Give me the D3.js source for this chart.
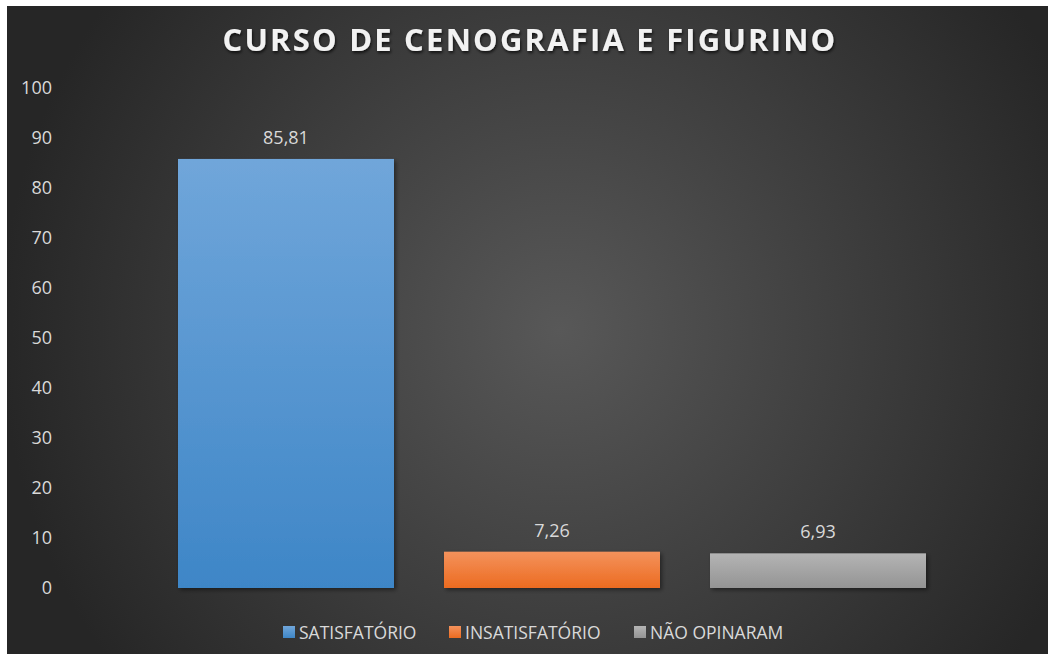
<!DOCTYPE html>
<html>
<head>
<meta charset="utf-8">
<script src="https://cdn.jsdelivr.net/npm/d3@7"></script>
<style>
  body { margin: 0; background: #fff; }
  svg { display: block; }
</style>
</head>
<body>
<svg id="chart" width="1048" height="654"></svg>
<script>
// data
var categories = ["SATISFATÓRIO", "INSATISFATÓRIO", "NÃO OPINARAM"];
var values = [85.81, 7.26, 6.93];
var valueLabels = ["85,81", "7,26", "6,93"];
var yTicks = [0, 10, 20, 30, 40, 50, 60, 70, 80, 90, 100];
var colors = [["#70a6da", "#3e86c7"], ["#f4925c", "#ec6b20"], ["#b4b4b4", "#949494"]];

var svg = d3.select("#chart");
var font = "'Open Sans', sans-serif";

// background with radial gradient
var defs = svg.append("defs");
var bg = defs.append("radialGradient").attr("id", "bg")
  .attr("gradientUnits", "userSpaceOnUse")
  .attr("cx", 560).attr("cy", 330).attr("r", 560);
bg.append("stop").attr("offset", "0%").attr("stop-color", "#585858");
bg.append("stop").attr("offset", "100%").attr("stop-color", "#262626");

colors.forEach(function(c, i) {
  var g = defs.append("linearGradient").attr("id", "bar" + i)
    .attr("x1", 0).attr("y1", 0).attr("x2", 0).attr("y2", 1);
  g.append("stop").attr("offset", "0%").attr("stop-color", c[0]);
  g.append("stop").attr("offset", "100%").attr("stop-color", c[1]);
});

var shadow = defs.append("filter").attr("id", "shadow")
  .attr("x", "-10%").attr("y", "-10%").attr("width", "130%").attr("height", "130%");
shadow.append("feDropShadow").attr("dx", 2).attr("dy", 2).attr("stdDeviation", 2)
  .attr("flood-color", "#000").attr("flood-opacity", 0.45);

var tshadow = defs.append("filter").attr("id", "tshadow")
  .attr("x", "-5%").attr("y", "-30%").attr("width", "110%").attr("height", "160%");
tshadow.append("feDropShadow").attr("dx", 1).attr("dy", 2).attr("stdDeviation", 1.5)
  .attr("flood-color", "#000").attr("flood-opacity", 0.7);

svg.append("rect")
  .attr("x", 7).attr("y", 6).attr("width", 1041).attr("height", 648)
  .attr("fill", "url(#bg)");

// scales
var x = d3.scaleBand()
  .domain(categories)
  .range([153, 951])
  .paddingInner(0.188)
  .paddingOuter(0.094);
var y = d3.scaleLinear()
  .domain([0, 100])
  .range([588, 88]);

// y axis
var yAxis = svg.append("g")
  .attr("transform", "translate(52,0)")
  .call(d3.axisLeft(y).tickValues(yTicks).tickSize(0).tickPadding(0));
yAxis.select(".domain").remove();
yAxis.selectAll("text")
  .attr("fill", "#d9d9d9")
  .style("font-family", font)
  .style("font-size", "18px");

// bars
svg.selectAll(".bar")
  .data(values)
  .enter()
  .append("rect")
  .attr("class", "bar")
  .attr("x", function(d, i) { return x(categories[i]); })
  .attr("y", function(d) { return y(d); })
  .attr("width", x.bandwidth())
  .attr("height", function(d) { return y(0) - y(d); })
  .attr("fill", function(d, i) { return "url(#bar" + i + ")"; })
  .attr("filter", "url(#shadow)");

// value labels
svg.selectAll(".vlabel")
  .data(values)
  .enter()
  .append("text")
  .attr("class", "vlabel")
  .attr("x", function(d, i) { return x(categories[i]) + x.bandwidth() / 2; })
  .attr("y", function(d) { return y(d) - 15; })
  .attr("text-anchor", "middle")
  .attr("fill", "#d9d9d9")
  .style("font-family", font)
  .style("font-size", "18px")
  .text(function(d, i) { return valueLabels[i]; });

// title
svg.append("text")
  .attr("x", 530)
  .attr("y", 51)
  .attr("text-anchor", "middle")
  .attr("fill", "#f2f2f2")
  .attr("filter", "url(#tshadow)")
  .style("font-family", font)
  .style("font-weight", "bold")
  .style("font-size", "31px")
  .style("letter-spacing", "2.2px")
  .text("CURSO DE CENOGRAFIA E FIGURINO");

// legend
var legendX = [283, 449, 634];
var legend = svg.selectAll(".legend")
  .data(categories)
  .enter()
  .append("g")
  .attr("class", "legend")
  .attr("transform", function(d, i) { return "translate(" + legendX[i] + ",626)"; });
legend.append("rect")
  .attr("width", 12).attr("height", 12)
  .attr("fill", function(d, i) { return "url(#bar" + i + ")"; });
legend.append("text")
  .attr("x", 16).attr("y", 13)
  .attr("fill", "#d9d9d9")
  .style("font-family", font)
  .style("font-size", "17.5px")
  .text(function(d) { return d; });
</script>
</body>
</html>
